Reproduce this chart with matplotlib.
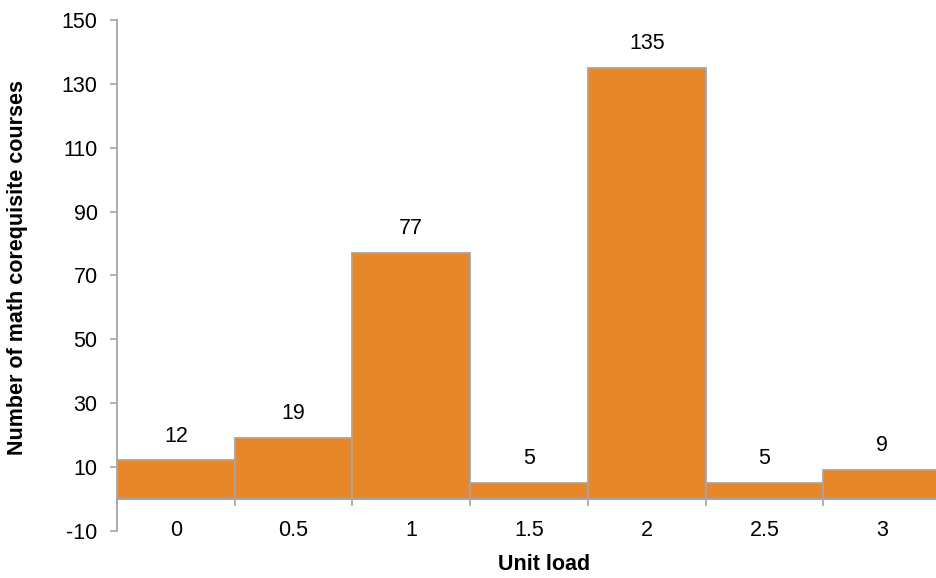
import numpy as np
import matplotlib.pyplot as plt

# данные
unit_load = ['0', '0.5', '1', '1.5', '2', '2.5', '3']
courses = [12, 19, 77, 5, 135, 5, 9]
y_ticks = [-10, 10, 30, 50, 70, 90, 110, 130, 150]

plt.rcParams['font.family'] = ['Liberation Sans', 'DejaVu Sans']
plt.rcParams['axes.unicode_minus'] = False

bar_color = '#E8862A'
grid_gray = '#A6A6A6'
fs = 15.5

fig = plt.figure(figsize=(9.37, 5.78), dpi=100)
ax = fig.add_axes([0.1249, 0.0818, 0.8795, 0.8836])

x = np.arange(len(unit_load))
ax.bar(x, courses, width=1.0, color=bar_color, edgecolor=grid_gray, linewidth=1.3)

for xi, v in zip(x, courses):
    ax.annotate(str(v), (xi, v), xytext=(0, 10), textcoords='offset points',
                ha='center', va='bottom', fontsize=fs)

ax.set_xlim(-0.5, 6.5)
ax.set_ylim(-10, 150)
ax.set_yticks(y_ticks)
ax.tick_params(axis='y', labelsize=fs, length=5, width=1.2, color=grid_gray, pad=9)

# подписи категорий по центру, тики на границах
ax.set_xticks(x)
ax.set_xticklabels(unit_load)
ax.set_xticks(np.arange(-0.5, len(unit_load), 1.0), minor=True)
ax.tick_params(axis='x', which='major', length=0, labelsize=fs, pad=15)
ax.tick_params(axis='x', which='minor', length=5, width=1.2, color=grid_gray)

ax.spines['top'].set_visible(False)
ax.spines['right'].set_visible(False)
ax.spines['bottom'].set_position(('data', 0))
ax.spines['bottom'].set_color(grid_gray)
ax.spines['bottom'].set_linewidth(1.5)
ax.spines['left'].set_color(grid_gray)
ax.spines['left'].set_linewidth(1.3)

fig.text(0.019, 0.538, 'Number of math corequisite courses', rotation=90,
         ha='center', va='center', fontsize=fs, fontweight='bold')
fig.text(0.5806, 0.024, 'Unit load', ha='center', va='center', fontsize=fs, fontweight='bold')

fig.savefig('out.png', dpi=100)
